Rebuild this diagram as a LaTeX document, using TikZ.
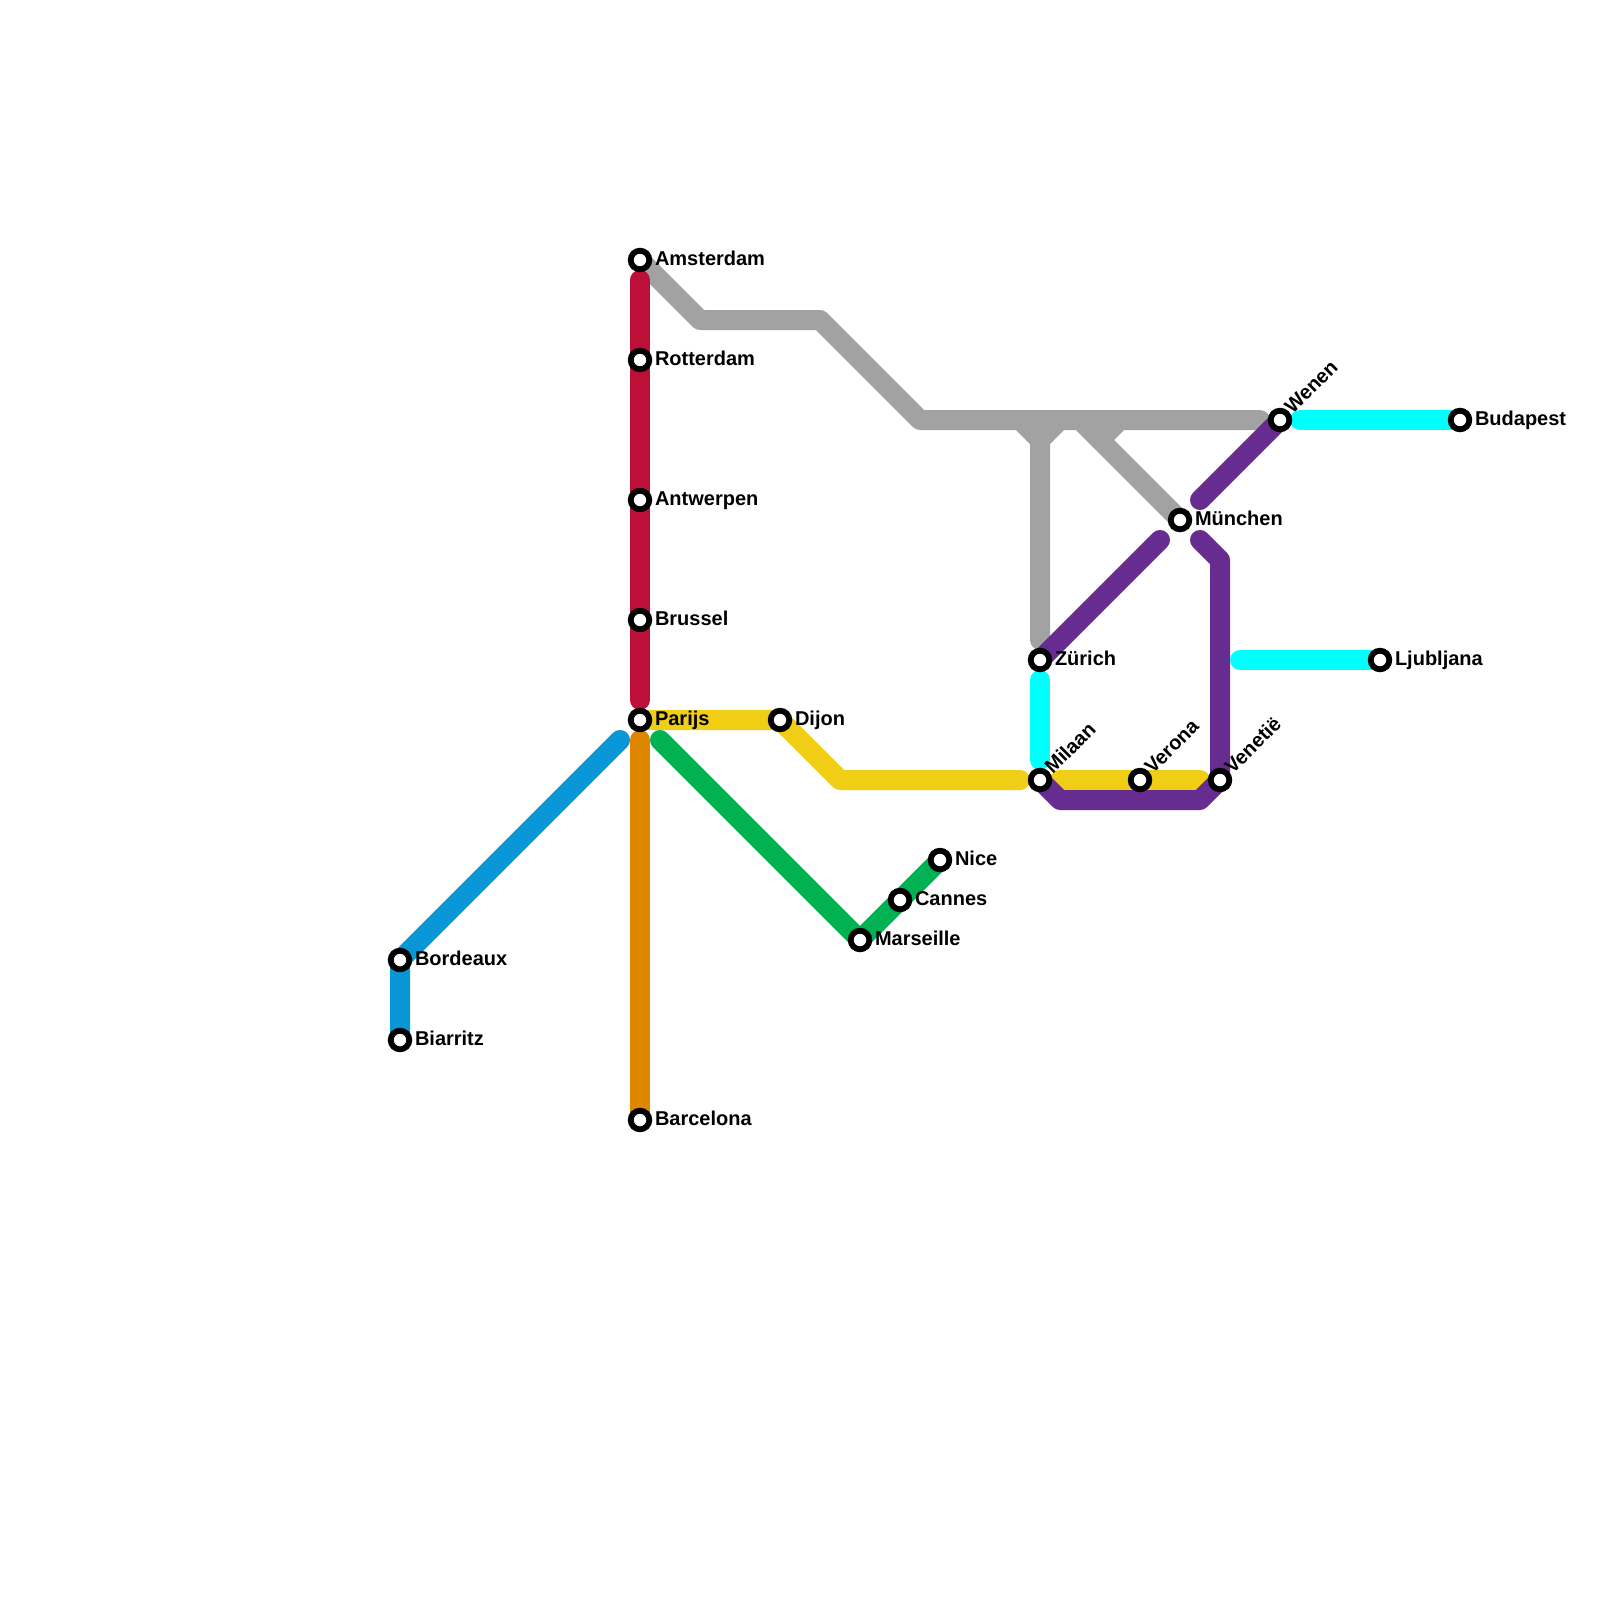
\documentclass[tikz,border=0pt]{standalone}
\usepackage{fontspec}
\setmainfont{Liberation Sans}
\usetikzlibrary{backgrounds}
\definecolor{linered}{HTML}{BD1038}
\definecolor{lineorange}{HTML}{DF8600}
\definecolor{lineblue}{HTML}{0896D7}
\definecolor{linegreen}{HTML}{00B251}
\definecolor{lineyellow}{HTML}{F0CE15}
\definecolor{linegray}{HTML}{A2A2A2}
\definecolor{linepurple}{HTML}{662C90}
\definecolor{linecyan}{HTML}{00FFFF}

\begin{document}
\begin{tikzpicture}[x=0.5pt, y=-0.5pt,
      stop/.style={circle, draw=black, fill=white, line width=2.9pt, minimum size=9.3pt, inner sep=0pt, outer sep=0pt},
      lbl/.style={font=\fontsize{10}{12}\selectfont\bfseries, inner sep=0pt, anchor=base west, xshift=7.3pt, yshift=-2.8pt},
      lblup/.style={font=\fontsize{10}{12}\selectfont\bfseries, inner sep=0pt, anchor=base west, rotate=45, xshift=6.2pt, yshift=-2.7pt},
      metro/.style={line width=10pt, line cap=round, line join=round}]
    \useasboundingbox (0,0) rectangle (1600,1600);

    \node[stop] (ams) at (640,260) {};
    \node[stop] (rot) at (640,360) {};
    \node[stop] (ant) at (640,500) {};
    \node[stop] (bru) at (640,620) {};
    \node[stop] (par) at (640,720) {};
    \node[stop] (bar) at (640,1120) {};
    \node[stop] (bor) at (400,960) {};
    \node[stop] (bia) at (400,1040) {};
    \node[stop] (dij) at (780,720) {};
    \node[stop] (mar) at (860,940) {};
    \node[stop] (can) at (900,900) {};
    \node[stop] (nic) at (940,860) {};
    \node[stop] (zur) at (1040,660) {};
    \node[stop] (mil) at (1040,780) {};
    \node[stop] (ver) at (1140,780) {};
    \node[stop] (ven) at (1220,780) {};
    \node[stop] (mun) at (1180,520) {};
    \node[stop] (wen) at (1280,420) {};
    \node[stop] (bud) at (1460,420) {};
    \node[stop] (lju) at (1380,660) {};

    \node[lbl] (amsL) at (ams) {Amsterdam};
    \node[lbl] (rotL) at (rot) {Rotterdam};
    \node[lbl] (antL) at (ant) {Antwerpen};
    \node[lbl] (bruL) at (bru) {Brussel};
    \node[lbl] (parL) at (par) {Parijs};
    \node[lbl] (barL) at (bar) {Barcelona};
    \node[lbl] (borL) at (bor) {Bordeaux};
    \node[lbl] (biaL) at (bia) {Biarritz};
    \node[lbl] (dijL) at (dij) {Dijon};
    \node[lbl] (marL) at (mar) {Marseille};
    \node[lbl] (canL) at (can) {Cannes};
    \node[lbl] (nicL) at (nic) {Nice};
    \node[lbl] (zurL) at (zur) {Zürich};
    \node[lbl] (munL) at (mun) {München};
    \node[lbl] (budL) at (bud) {Budapest};
    \node[lbl] (ljuL) at (lju) {Ljubljana};
    \node[lblup] (milL) at (mil) {Milaan};
    \node[lblup] (verL) at (ver) {Verona};
    \node[lblup] (venL) at (ven) {Venetië};
    \node[lblup] (wenL) at (wen) {Wenen};

    \coordinate (redtop) at (640,280);
    \coordinate (redend) at (640,700);
    \coordinate (orangetop) at (640,740);
    \coordinate (bluetop) at (620,740);
    \coordinate (greentop) at (660,740);
    \coordinate (yel1) at (840,780);
    \coordinate (yel2) at (1020,780);
    \coordinate (yel3) at (1060,780);
    \coordinate (yel4) at (1200,780);
    \coordinate (gray1) at (700,320);
    \coordinate (gray2) at (820,320);
    \coordinate (gray3) at (920,420);
    \coordinate (gray4) at (1260,420);
    \coordinate (gray5) at (1020,420);
    \coordinate (gray6) at (1040,440);
    \coordinate (gray7) at (1060,420);
    \coordinate (gray8) at (1040,640);
    \coordinate (gray9) at (1080,420);
    \coordinate (gray10) at (1120,420);
    \coordinate (gray11) at (1100,440);
    \coordinate (pur1) at (1200,500);
    \coordinate (pur2) at (1160,540);
    \coordinate (pur3) at (1200,540);
    \coordinate (pur4) at (1220,560);
    \coordinate (pur5) at (1200,800);
    \coordinate (pur6) at (1060,800);
    \coordinate (cya1) at (1040,680);
    \coordinate (cya2) at (1040,760);
    \coordinate (cya3) at (1240,660);
    \coordinate (cya4) at (1300,420);

    \begin{pgfonlayer}{background}
      \draw[metro, linegray] (ams.center) -- (gray1) -- (gray2) -- (gray3) -- (gray4);
      \draw[metro, linegray] (gray5) -- (gray6) -- (gray8);
      \draw[metro, linegray] (gray7) -- (gray6);
      \draw[metro, linegray] (gray9) -- (mun.center);
      \draw[metro, linegray] (gray10) -- (gray11);
      \draw[metro, lineyellow] (par.center) -- (dij.center) -- (yel1) -- (yel2);
      \draw[metro, lineyellow] (yel3) -- (yel4);
      \draw[metro, linered] (redtop) -- (redend);
      \draw[metro, lineorange] (orangetop) -- (bar.center);
      \draw[metro, lineblue] (bluetop) -- (bor.center) -- (bia.center);
      \draw[metro, linegreen] (greentop) -- (mar.center) -- (nic.center);
      \draw[metro, linepurple] (wen.center) -- (pur1);
      \draw[metro, linepurple] (pur2) -- (zur.center);
      \draw[metro, linepurple] (pur3) -- (pur4) -- (ven.center) -- (pur5) -- (pur6) -- (mil.center);
      \draw[metro, linecyan] (cya1) -- (cya2);
      \draw[metro, linecyan] (cya3) -- (lju.center);
      \draw[metro, linecyan] (cya4) -- (bud.center);
    \end{pgfonlayer}
  \end{tikzpicture}
\end{document}
